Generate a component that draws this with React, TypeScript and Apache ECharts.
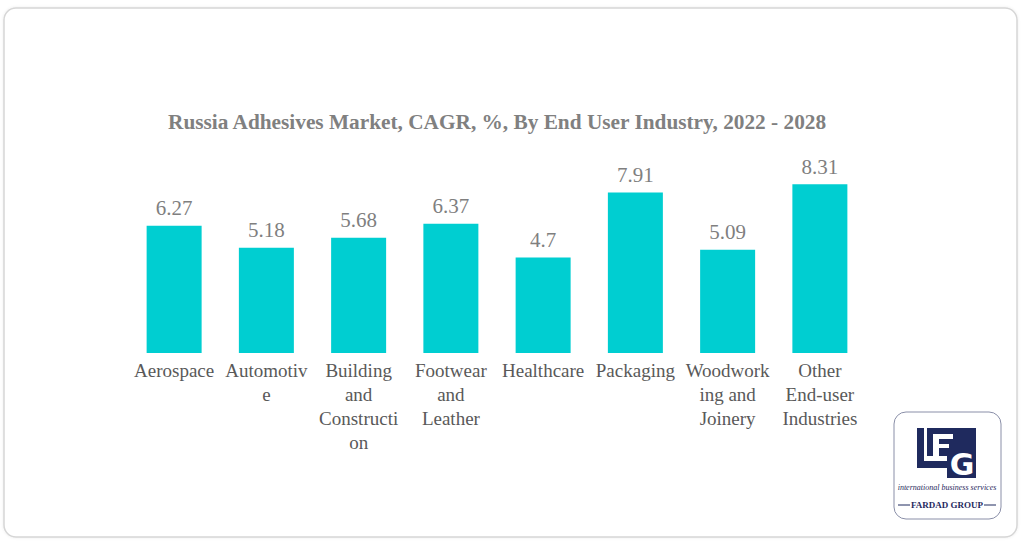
import React, { useEffect, useRef } from "react";
import * as echarts from "echarts";

const TITLE = "Russia Adhesives Market, CAGR, %, By End User Industry, 2022 - 2028";
const categories = [
  "Aerospace",
  "Automotive",
  "Building and Construction",
  "Footwear and Leather",
  "Healthcare",
  "Packaging",
  "Woodworking and Joinery",
  "Other End-user Industries",
];
const wrappedLabels = [
  "Aerospace",
  "Automotiv\ne",
  "Building\nand\nConstructi\non",
  "Footwear\nand\nLeather",
  "Healthcare",
  "Packaging",
  "Woodwork\ning and\nJoinery",
  "Other\nEnd-user\nIndustries",
];
const cagrValues = [6.27, 5.18, 5.68, 6.37, 4.7, 7.91, 5.09, 8.31];

const NAVY = "#1f2a5e";
const FONT = "'Liberation Serif', 'Times New Roman', serif";

export default function App() {
  const ref = useRef<HTMLDivElement>(null);
  useEffect(() => {
    if (!ref.current) return;
    const chart = echarts.init(ref.current, null, { renderer: "svg" });
    chart.setOption({
      animation: false,
      backgroundColor: "#ffffff",
      title: {
        text: TITLE,
        left: 163,
        top: 106,
        textStyle: { fontFamily: FONT, fontSize: 21.3, fontWeight: "bold", color: "#808080" },
      },
      grid: { left: 128, right: 158, top: 150, bottom: 191, containLabel: false },
      xAxis: {
        type: "category",
        data: categories,
        axisLine: { show: false },
        axisTick: { show: false },
        axisLabel: {
          interval: 0,
          margin: 5,
          fontFamily: FONT,
          fontSize: 19,
          lineHeight: 24,
          color: "#595959",
          verticalAlign: "top",
          formatter: (_v: string, i: number) => wrappedLabels[i],
        },
      },
      yAxis: { type: "value", min: 0, max: 10, show: false, splitLine: { show: false } },
      series: [
        {
          type: "bar",
          data: cagrValues,
          barWidth: 55,
          itemStyle: { color: "#00CED1" },
          label: {
            show: true,
            position: "top",
            distance: 7,
            fontFamily: FONT,
            fontSize: 21,
            color: "#7f7f7f",
          },
        },
      ],
      graphic: [
        {
          type: "rect",
          z: -10,
          silent: true,
          shape: { x: 4, y: 8, width: 1013, height: 529, r: 12 },
          style: { fill: "#ffffff", stroke: "#d6d6d6", lineWidth: 1.5, shadowBlur: 3, shadowColor: "rgba(0,0,0,0.08)" },
        },
        {
          type: "group",
          children: [
            {
              type: "rect",
              shape: { x: 894, y: 412, width: 107, height: 107, r: 12 },
              style: { fill: "#ffffff", stroke: "#8a8fa8", lineWidth: 1 },
            },
            { type: "rect", shape: { x: 917, y: 428, width: 7, height: 40 }, style: { fill: NAVY } },
            { type: "rect", shape: { x: 917, y: 461, width: 38, height: 7 }, style: { fill: NAVY } },
            { type: "rect", shape: { x: 927, y: 428, width: 49, height: 28 }, style: { fill: NAVY } },
            { type: "rect", shape: { x: 933, y: 434, width: 6, height: 22 }, style: { fill: "#ffffff" } },
            { type: "rect", shape: { x: 939, y: 434, width: 14, height: 5 }, style: { fill: "#ffffff" } },
            { type: "rect", shape: { x: 939, y: 444, width: 10, height: 4 }, style: { fill: "#ffffff" } },
            { type: "rect", shape: { x: 947, y: 448, width: 29, height: 30 }, style: { fill: NAVY } },
            {
              type: "text",
              x: 962,
              y: 464,
              style: {
                text: "G",
                fill: "#ffffff",
                font: "bold 30px 'DejaVu Sans'",
                align: "center",
                verticalAlign: "middle",
              },
            },
            {
              type: "text",
              x: 947,
              y: 487,
              style: {
                text: "international business services",
                fill: NAVY,
                font: "italic 8px 'Liberation Serif'",
                align: "center",
                verticalAlign: "middle",
              },
            },
            { type: "line", shape: { x1: 898, y1: 505, x2: 910, y2: 505 }, style: { stroke: NAVY, lineWidth: 1 } },
            { type: "line", shape: { x1: 984, y1: 505, x2: 996, y2: 505 }, style: { stroke: NAVY, lineWidth: 1 } },
            {
              type: "text",
              x: 947,
              y: 505,
              style: {
                text: "FARDAD GROUP",
                fill: NAVY,
                font: "bold 9px 'Liberation Serif'",
                align: "center",
                verticalAlign: "middle",
              },
            },
          ],
        },
      ],
    });
    return () => chart.dispose();
  }, []);
  return (
    <div style={{ position: "fixed", left: 0, top: 0, width: 1024, height: 544 }}>
      <div ref={ref} style={{ width: 1024, height: 544 }} />
    </div>
  );
}
